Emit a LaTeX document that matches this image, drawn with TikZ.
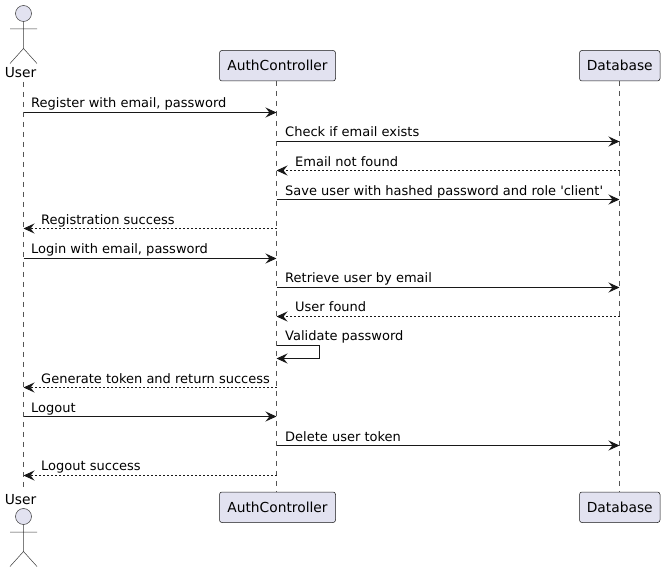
\documentclass[tikz,border=0pt]{standalone}
\usepackage{fontspec}
\setmainfont{DejaVu Sans}
\usetikzlibrary{arrows.meta}
\definecolor{pfill}{HTML}{E2E2F0}
\definecolor{pline}{HTML}{181818}
\definecolor{plife}{HTML}{555555}
\tikzset{
  x=1pt,y=-1pt,
  partbox/.style={draw=pline,fill=pfill,line width=0.5pt,rounded corners=2.5pt,inner sep=0pt,text=black,font=\fontsize{13.8}{16}\selectfont},
  actorline/.style={draw=pline!85,fill=pfill,line width=0.5pt},
  actorname/.style={inner sep=0pt,text=black,font=\fontsize{13.8}{16}\selectfont},
  lifeline/.style={draw=plife,line width=0.5pt,dash pattern=on 5pt off 5pt},
  msgarrow/.style={draw=pline,line width=1pt,-{Stealth[length=11pt,width=10pt,inset=4pt,fill=pline]}},
  replyarrow/.style={msgarrow,dash pattern=on 2pt off 2pt},
  msglabel/.style={anchor=base west,inner sep=0pt,text=black,font=\fontsize{13}{15}\selectfont},
}
\newcommand{\actorfig}[1]{%
  \draw[actorline] (23.5,#1) circle[radius=8];
  \draw[actorline,fill=none] (23.5,#1+8) -- (23.5,#1+35)
    (10,#1+15.5) -- (37,#1+15.5)
    (10,#1+50) -- (23.5,#1+35) -- (37,#1+50);
}
\begin{document}
\begin{tikzpicture}
\useasboundingbox (0,0) rectangle (665,572);
\fill[white] (0,0) rectangle (665,572);
% participants
\node[partbox,minimum width=116pt,minimum height=30.5pt] (authTop) at (277.5,65.75) {AuthController};
\node[partbox,minimum width=80.5pt,minimum height=30.5pt] (dbTop) at (619.75,65.75) {Database};
\node[partbox,minimum width=116pt,minimum height=30.5pt] (authBot) at (277.5,507.25) {AuthController};
\node[partbox,minimum width=80.5pt,minimum height=30.5pt] (dbBot) at (619.75,507.25) {Database};
\node[actorname] (userTop) at (20.5,73) {User};
\node[actorname] (userBot) at (20.5,500) {User};
\actorfig{13.5}
\actorfig{516.5}
% lifeline anchors
\coordinate (uT) at (23.5,82);
\coordinate (uB) at (23.5,491);
\coordinate (aT) at (276.5,81);
\coordinate (aB) at (276.5,492);
\coordinate (dT) at (619.5,81);
\coordinate (dB) at (619.5,492);
\draw[lifeline] (uT) -- (uB);
\draw[lifeline] (aT) -- (aB);
\draw[lifeline] (dT) -- (dB);
\foreach \y in {112,141,170,199,228,258,287,316,345,358,387,416,445,475}{
  \coordinate (u\y) at (23.5,\y+0.5);
  \coordinate (a\y) at (276.5,\y+0.5);
  \coordinate (d\y) at (619.5,\y+0.5);
}
\coordinate (selfA) at (319.5,345.5);
\coordinate (selfB) at (319.5,358.5);
% messages
\node[msglabel] (m1) at (31,107.5) {Register with email, password};
\draw[msgarrow] (u112) -- (a112);
\node[msglabel] (m2) at (285,136.5) {Check if email exists};
\draw[msgarrow] (a141) -- (d141);
\node[msglabel] (m3) at (295,166.5) {Email not found};
\draw[replyarrow] (d170) -- (a170);
\node[msglabel] (m4) at (285,195.5) {Save user with hashed password and role \textquotesingle client\textquotesingle};
\draw[msgarrow] (a199) -- (d199);
\node[msglabel] (m5) at (41,224.5) {Registration success};
\draw[replyarrow] (a228) -- (u228);
\node[msglabel] (m6) at (31,253.5) {Login with email, password};
\draw[msgarrow] (u258) -- (a258);
\node[msglabel] (m7) at (285,282.5) {Retrieve user by email};
\draw[msgarrow] (a287) -- (d287);
\node[msglabel] (m8) at (295,311.5) {User found};
\draw[replyarrow] (d316) -- (a316);
\node[msglabel] (m9) at (285,340.5) {Validate password};
\draw[msgarrow] (a345) -- (selfA) -- (selfB) -- (a358);
\node[msglabel] (m10) at (41,383.5) {Generate token and return success};
\draw[replyarrow] (a387) -- (u387);
\node[msglabel] (m11) at (31,412.5) {Logout};
\draw[msgarrow] (u416) -- (a416);
\node[msglabel] (m12) at (285,441.5) {Delete user token};
\draw[msgarrow] (a445) -- (d445);
\node[msglabel] (m13) at (41,470.5) {Logout success};
\draw[replyarrow] (a475) -- (u475);
\end{tikzpicture}
\end{document}
